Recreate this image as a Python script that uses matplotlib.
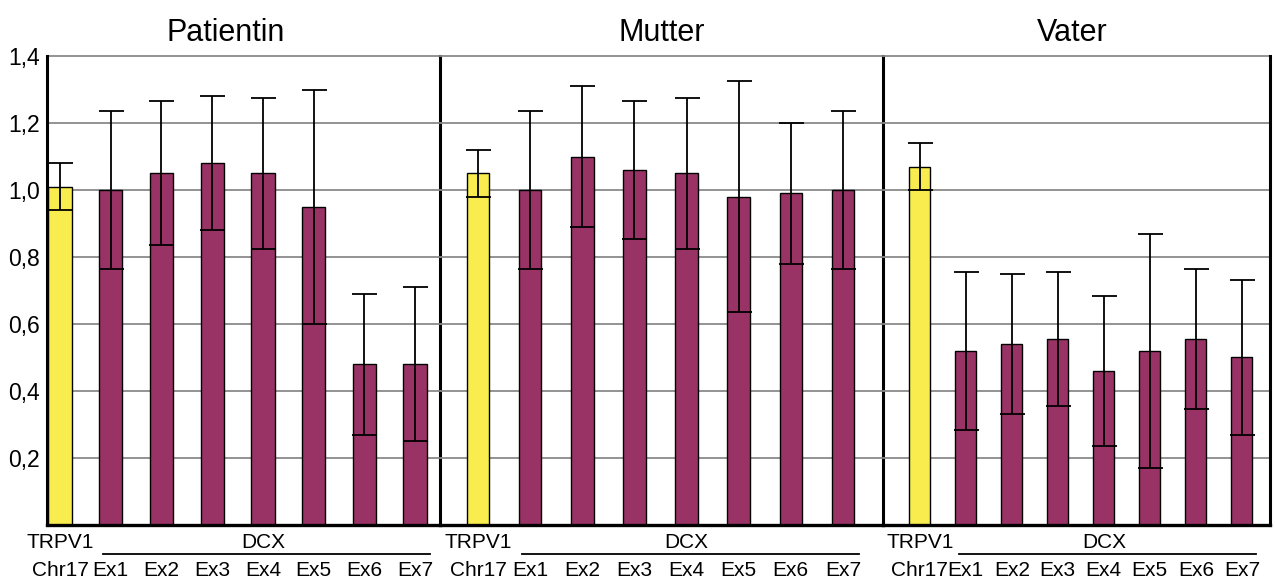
import matplotlib
matplotlib.use("Agg")
import matplotlib.pyplot as plt
import numpy as np

plt.rcParams['font.family'] = ['Liberation Sans', 'DejaVu Sans']

# relative copy number, first bar = TRPV1 (Chr17) reference, then DCX exons 1-7
subjects = ['Patientin', 'Mutter', 'Vater']
exons = ['Ex1', 'Ex2', 'Ex3', 'Ex4', 'Ex5', 'Ex6', 'Ex7']

patientin = [1.01, 1.00, 1.05, 1.08, 1.05, 0.95, 0.48, 0.48]
patientin_err = [0.07, 0.235, 0.215, 0.20, 0.225, 0.35, 0.21, 0.23]
mutter = [1.05, 1.00, 1.10, 1.06, 1.05, 0.98, 0.99, 1.00]
mutter_err = [0.07, 0.235, 0.21, 0.205, 0.225, 0.345, 0.21, 0.235]
vater = [1.07, 0.52, 0.54, 0.555, 0.46, 0.52, 0.555, 0.50]
vater_err = [0.07, 0.235, 0.21, 0.20, 0.225, 0.35, 0.21, 0.23]

yticks = [0.2, 0.4, 0.6, 0.8, 1.0, 1.2, 1.4]
ytick_labels = ['0,2', '0,4', '0,6', '0,8', '1,0', '1,2', '1,4']

YELLOW = '#F8EC4E'
PURPLE = '#993366'
GRID = '#8a8a8a'

fig = plt.figure(figsize=(12.75, 5.81), dpi=100)

# panel placement, x-limits and bar width per panel
panels = [
    dict(rect=[0.0369, 0.0964, 0.3082, 0.8072], xlim=(-0.256, 7.49), width=0.46, title_x=0.455),
    dict(rect=[0.3451, 0.0964, 0.3475, 0.8072], xlim=(-0.73, 7.77), width=0.43, title_x=0.5),
    dict(rect=[0.6925, 0.0964, 0.3035, 0.8072], xlim=(-0.80, 7.61), width=0.46, title_x=0.49),
]
data = [(patientin, patientin_err), (mutter, mutter_err), (vater, vater_err)]

x = np.arange(8)
for i, (p, (vals, errs), name) in enumerate(zip(panels, data, subjects)):
    ax = fig.add_axes(p['rect'])
    ax.patch.set_visible(False)
    ax.set_xlim(*p['xlim'])
    ax.set_ylim(0, 1.4)

    colors = [YELLOW] + [PURPLE] * 7
    ax.bar(x, vals, width=p['width'], color=colors, edgecolor='black', linewidth=1.0, zorder=2)
    ax.errorbar(x, vals, yerr=errs, fmt='none', ecolor='black', elinewidth=1.3,
                capsize=9, capthick=1.3, zorder=3)

    for y in yticks:
        ax.axhline(y, color=GRID, linewidth=1.3, zorder=1, clip_on=False)

    for side in ['top', 'left']:
        ax.spines[side].set_visible(False)
    ax.spines['right'].set_linewidth(2.2)
    ax.spines['right'].set_zorder(4)
    ax.spines['bottom'].set_linewidth(2.4)
    if i == 0:
        ax.spines['left'].set_visible(True)
        ax.spines['left'].set_linewidth(2.2)
        ax.set_yticks(yticks)
        ax.set_yticklabels(ytick_labels, fontsize=16.5)
        ax.tick_params(axis='y', length=0, pad=5)
    else:
        ax.set_yticks([])
    ax.set_xticks([])

    ax.text(p['title_x'], 1.0 + 0.05, name, transform=ax.transAxes,
            ha='center', va='center', fontsize=22)

    # category labels under the axis
    tr = ax.get_xaxis_transform()
    ax.text(0, -0.038, 'TRPV1', transform=tr, ha='center', va='center', fontsize=15)
    ax.text(0, -0.098, 'Chr17', transform=tr, ha='center', va='center', fontsize=15)
    ax.text(4, -0.038, 'DCX', transform=tr, ha='center', va='center', fontsize=15)
    for xi, lab in zip(x[1:], exons):
        ax.text(xi, -0.098, lab, transform=tr, ha='center', va='center', fontsize=15)
    ax.plot([0.85, 7.3], [-0.062, -0.062], transform=tr, color='black',
            linewidth=1.3, clip_on=False)

fig.savefig('out.png', dpi=100)
